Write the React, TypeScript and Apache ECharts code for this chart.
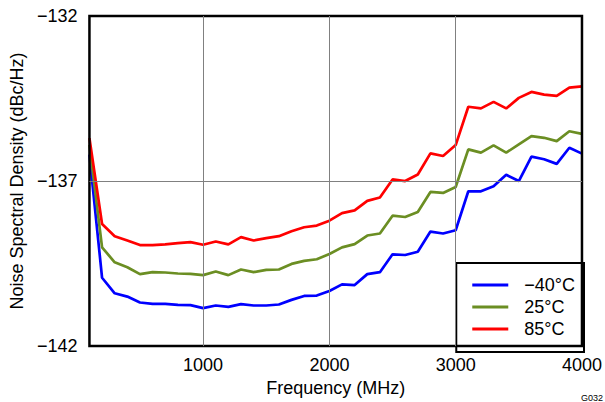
import React, { useEffect, useRef } from "react";
import * as echarts from "echarts";

const freqs = [100,200,300,400,500,600,700,800,900,1000,1100,1200,1300,1400,1500,1600,1700,1800,1900,2000,2100,2200,2300,2400,2500,2600,2700,2800,2900,3000,3100,3200,3300,3400,3500,3600,3700,3800,3900,4000];

const minus40 = [-136.2,-139.93,-140.40,-140.50,-140.68,-140.72,-140.72,-140.75,-140.76,-140.85,-140.77,-140.81,-140.73,-140.77,-140.77,-140.74,-140.60,-140.48,-140.47,-140.33,-140.13,-140.15,-139.82,-139.76,-139.22,-139.24,-139.14,-138.53,-138.59,-138.49,-137.31,-137.31,-137.16,-136.81,-137.00,-136.26,-136.34,-136.48,-135.99,-136.17];

const plus25 = [-135.9,-139.01,-139.46,-139.61,-139.82,-139.76,-139.77,-139.80,-139.81,-139.85,-139.74,-139.85,-139.68,-139.76,-139.69,-139.68,-139.51,-139.42,-139.37,-139.21,-139.01,-138.91,-138.65,-138.59,-138.05,-138.09,-137.94,-137.33,-137.36,-137.18,-136.04,-136.14,-135.92,-136.14,-135.89,-135.64,-135.69,-135.79,-135.49,-135.57];

const plus85 = [-135.7,-138.30,-138.67,-138.80,-138.94,-138.94,-138.92,-138.88,-138.85,-138.93,-138.83,-138.92,-138.70,-138.80,-138.73,-138.67,-138.52,-138.40,-138.35,-138.20,-137.97,-137.89,-137.60,-137.50,-136.95,-137.00,-136.80,-136.16,-136.24,-135.91,-134.75,-134.80,-134.60,-134.80,-134.48,-134.30,-134.38,-134.42,-134.17,-134.13];

const seriesNames = ["\u221240\u00b0C", "25\u00b0C", "85\u00b0C"];
const seriesColors = ["#0000ff", "#6b8e23", "#ff0000"];
const xTicks = [1000, 2000, 3000, 4000];
const yTicks = [-142, -137, -132];
const xGridLines = [1000, 2000, 3000];
const yGridLines = [-137];

const FONT = "Liberation Sans, Arial, sans-serif";

export default function App() {
  const ref = useRef<HTMLDivElement>(null);
  useEffect(() => {
    if (!ref.current) return;
    document.body.style.margin = "0";
    const chart = echarts.init(ref.current, null, { renderer: "svg" });
    const values = [minus40, plus25, plus85];
    const lineSeries = values.map((vals, i) => ({
      name: seriesNames[i],
      type: "line",
      data: freqs.map((f, j) => [f, vals[j]]),
      symbol: "none",
      lineStyle: { color: seriesColors[i], width: 2.7 },
      itemStyle: { color: seriesColors[i] },
      z: 3,
    }));
    chart.setOption({
      animation: false,
      backgroundColor: "#fff",
      textStyle: { fontFamily: FONT },
      grid: {
        left: 88,
        right: 21,
        top: 16,
        bottom: 50,
        show: true,
        borderColor: "#000",
        borderWidth: 2.5,
        backgroundColor: "transparent",
        z: 5,
      },
      xAxis: {
        type: "value",
        min: 100,
        max: 4000,
        name: "Frequency (MHz)",
        nameLocation: "middle",
        nameGap: 28,
        nameTextStyle: { fontSize: 18, color: "#000", fontFamily: FONT },
        axisLine: { show: false },
        axisTick: { show: false },
        splitLine: { show: false },
        axisLabel: {
          customValues: xTicks,
          fontSize: 18,
          color: "#000",
          margin: 10,
          fontFamily: FONT,
          formatter: (v: number) => String(v),
        },
      },
      yAxis: {
        type: "value",
        min: -142,
        max: -132,
        name: "Noise Spectral Density (dBc/Hz)",
        nameLocation: "middle",
        nameGap: 57,
        nameTextStyle: { fontSize: 18, color: "#000", fontFamily: FONT },
        axisLine: { show: false },
        axisTick: { show: false },
        splitLine: { show: false },
        axisLabel: {
          customValues: yTicks,
          fontSize: 18,
          color: "#000",
          margin: 12,
          fontFamily: FONT,
          formatter: (v: number) => String(v).replace("-", "\u2212"),
        },
      },
      legend: {
        data: seriesNames,
        orient: "vertical",
        right: 21,
        bottom: 50,
        backgroundColor: "#fff",
        borderColor: "#000",
        borderWidth: 2,
        borderRadius: 0,
        padding: [13, 9, 14, 16],
        icon: "rect",
        itemWidth: 36,
        itemHeight: 3,
        itemGap: 4,
        textStyle: { fontSize: 18, color: "#000", fontFamily: FONT, padding: [0, 0, 0, 11] },
      },
      graphic: [
        {
          type: "text",
          x: 581,
          y: 393,
          style: { text: "G032", fontSize: 9, fill: "#000", fontFamily: FONT },
        },
      ],
      series: [
        {
          name: "grid",
          type: "line",
          data: [],
          z: 1,
          silent: true,
          markLine: {
            silent: true,
            symbol: "none",
            label: { show: false },
            lineStyle: { color: "#808080", width: 1, type: "solid" },
            data: [
              ...xGridLines.map((x) => ({ xAxis: x })),
              ...yGridLines.map((y) => ({ yAxis: y })),
            ],
          },
        },
        ...lineSeries,
      ],
    });
    return () => chart.dispose();
  }, []);
  return <div ref={ref} style={{ width: 605, height: 402 }} />;
}
